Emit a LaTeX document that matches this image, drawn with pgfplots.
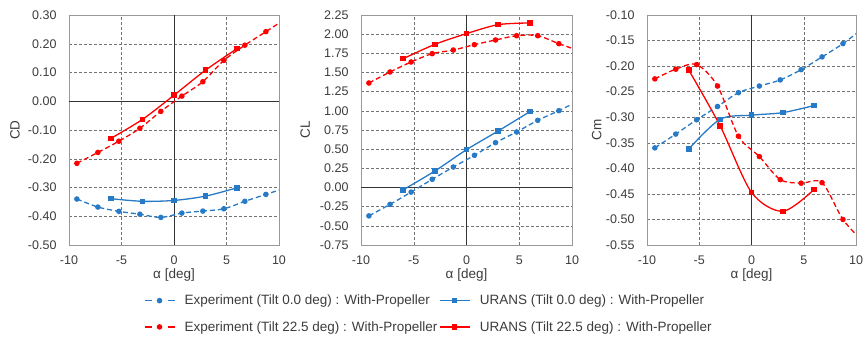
\documentclass[border=0pt]{standalone}
\usepackage{pgfplots}
\pgfplotsset{compat=1.18}
\usepackage{fontspec}
\setmainfont{Liberation Sans}
\definecolor{cblue}{RGB}{38,122,198}
\definecolor{cred}{RGB}{255,0,0}
\definecolor{txt}{RGB}{60,60,60}
\pgfplotsset{
  base/.style={
    scale only axis, height=230pt,
    font=\fontsize{12.5}{15}\selectfont,
    /pgf/number format/assume math mode=true,
    xmin=-10, xmax=10, xtick={-10,-5,0,5,10},
    grid=major,
    major grid style={draw=black!55, dash pattern=on 3pt off 2pt, line width=0.5pt},
    axis line style={draw=black!40, line width=0.7pt},
    major tick length=0pt,
    tick label style={text=txt},
    yticklabel style={/pgf/number format/fixed, /pgf/number format/fixed zerofill, /pgf/number format/precision=2, xshift=-9pt},
    xticklabel style={yshift=-7pt},
    xlabel={α [deg]},
    xlabel style={at={(axis description cs:0.5,-0.13)}, anchor=center, text=txt, font=\fontsize{13.5}{16}\selectfont},
    ylabel style={rotate=0, anchor=center, text=txt, font=\fontsize{13.5}{16}\selectfont},
    legend cell align=left,
  },
  exp/.style={line width=1.3pt, smooth, dash pattern=on 5pt off 3pt, mark=*, mark size=2.1pt, mark options={solid},
    legend image code/.code={\draw[mark repeat=2,mark phase=2,##1, dash pattern=on 7pt off 16pt] plot coordinates {(0pt,0pt) (15pt,0pt) (30pt,0pt)};}},
  urans/.style={line width=1.3pt, smooth, mark=square*, mark size=2.1pt, mark options={solid}},
}
\begin{document}
\begin{tikzpicture}
\path[use as bounding box] (0,0) rectangle (864pt,338pt);
% ---------------- CD ----------------
\begin{axis}[base, at={(69pt,93pt)}, anchor=south west, width=210pt,
  ymin=-0.5, ymax=0.3, ytick={-0.5,-0.4,...,0.31},
  ylabel={CD}, ylabel style={at={(axis description cs:-0.257,0.5)}}]
\draw[black!80, line width=0.9pt] (axis cs:0,-0.5) -- (axis cs:0,0.3);
\draw[black!80, line width=0.9pt] (axis cs:-10,0) -- (axis cs:10,0);
\addplot[exp, color=cblue] coordinates {(-9.25,-0.340) (-7.25,-0.368) (-5.25,-0.383) (-3.25,-0.393) (-1.25,-0.404) (0.75,-0.389) (2.75,-0.382) (4.75,-0.374) (6.75,-0.348) (8.75,-0.324) (10.75,-0.300)};
\addplot[urans, color=cblue] coordinates {(-6,-0.339) (-3,-0.348) (0,-0.345) (3,-0.330) (6,-0.301)};
\addplot[exp, color=cred] coordinates {(-9.25,-0.216) (-7.25,-0.178) (-5.25,-0.139) (-3.25,-0.094) (-1.25,-0.035) (0.75,0.018) (2.75,0.068) (4.75,0.142) (6.75,0.195) (8.75,0.242) (10.75,0.290)};
\addplot[urans, color=cred] coordinates {(-6,-0.129) (-3,-0.063) (0,0.021) (3,0.108) (6,0.183)};
\end{axis}
% ---------------- CL ----------------
\begin{axis}[base, at={(361pt,93pt)}, anchor=south west, width=211pt,
  ymin=-0.75, ymax=2.25, ytick={-0.75,-0.5,...,2.26},
  ylabel={CL}, ylabel style={at={(axis description cs:-0.264,0.5)}},
  legend columns=2,
  legend style={at={(axis description cs:-1.03,-0.21)}, anchor=north west, draw=none, fill=none, inner sep=0pt,
    font=\fontsize{13.5}{16}\selectfont, text=txt,
    nodes={inner sep=1.5pt},
    /tikz/every even column/.append style={column sep=0pt},
    /tikz/every odd column/.append style={column sep=8pt},
    row sep=12pt},
  legend image code/.code={\draw[mark repeat=2,mark phase=2,#1] plot coordinates {(0pt,0pt) (15pt,0pt) (30pt,0pt)};},
  ]
\draw[black!80, line width=0.9pt] (axis cs:0,-0.75) -- (axis cs:0,2.25);
\draw[black!80, line width=0.9pt] (axis cs:-10,0) -- (axis cs:10,0);
\addplot[exp, color=cblue] coordinates {(-9.25,-0.37) (-7.25,-0.22) (-5.25,-0.06) (-3.25,0.107) (-1.25,0.267) (0.75,0.42) (2.75,0.585) (4.75,0.724) (6.75,0.876) (8.75,1.002) (10.75,1.14)};
\addlegendentry{Experiment (Tilt 0.0 deg) : With-Propeller}
\addplot[urans, color=cblue] coordinates {(-6,-0.03) (-3,0.215) (0,0.493) (3,0.737) (6,0.989)};
\addlegendentry{URANS (Tilt 0.0 deg) : With-Propeller}
\addplot[exp, color=cred] coordinates {(-9.25,1.363) (-7.25,1.507) (-5.25,1.637) (-3.25,1.746) (-1.25,1.793) (0.75,1.863) (2.75,1.924) (4.75,1.98) (6.75,1.98) (8.75,1.876) (10.75,1.78)};
\addlegendentry{Experiment (Tilt 22.5 deg) : With-Propeller}
\addplot[urans, color=cred] coordinates {(-6,1.68) (-3,1.867) (0,2.007) (3,2.124) (6,2.146)};
\addlegendentry{URANS (Tilt 22.5 deg) : With-Propeller}
\end{axis}
% ---------------- Cm ----------------
\begin{axis}[base, at={(647pt,93pt)}, anchor=south west, width=209pt,
  ymin=-0.55, ymax=-0.10, ytick={-0.55,-0.5,...,-0.09},
  ylabel={Cm}, ylabel style={at={(axis description cs:-0.24,0.5)}}]
\draw[black!80, line width=0.9pt] (axis cs:0,-0.55) -- (axis cs:0,-0.10);
\addplot[exp, color=cblue] coordinates {(-9.25,-0.360) (-7.25,-0.333) (-5.25,-0.305) (-3.25,-0.279) (-1.25,-0.252) (0.75,-0.239) (2.75,-0.227) (4.75,-0.207) (6.75,-0.182) (8.75,-0.156) (10.75,-0.125)};
\addplot[urans, color=cblue] coordinates {(-6,-0.362) (-3,-0.304) (0,-0.296) (3,-0.291) (6,-0.277)};
\addplot[exp, color=cred] coordinates {(-9.25,-0.225) (-7.25,-0.206) (-5.25,-0.197) (-3.25,-0.239) (-1.25,-0.337) (0.75,-0.377) (2.75,-0.422) (4.75,-0.429) (6.75,-0.428) (8.75,-0.500) (10.75,-0.545)};
\addplot[urans, color=cred] coordinates {(-6,-0.208) (-3,-0.317) (0,-0.447) (3,-0.484) (6,-0.441)};
\end{axis}
\end{tikzpicture}
\end{document}
